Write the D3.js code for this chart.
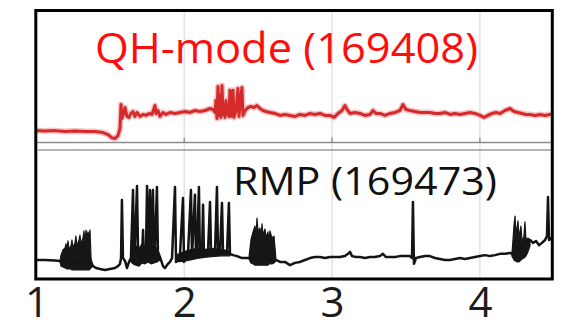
<!DOCTYPE html>
<html>
<head>
<meta charset="utf-8">
<script src="https://cdn.jsdelivr.net/npm/d3@7/dist/d3.min.js"></script>
<style>
  html, body { margin: 0; padding: 0; background: #fff; }
  svg { display: block; }
</style>
</head>
<body>
<svg id="chart" width="561" height="330"></svg>
<script>
// Time axis ticks (s)
const timeTicks = [1, 2, 3, 4];

// Panel labels
const qhLabel = "QH-mode (169408)";
const rmpLabel = "RMP (169473)";

// QH-mode discharge: edge D-alpha trace, [time s, signal a.u.]
const qhTrace = [
  [0.99,0.36],[1.058,0.35],[1.125,0.36],[1.193,0.33],[1.26,0.35],[1.328,0.33],[1.396,0.33],
  [1.45,0.30],[1.484,0.24],[1.511,0.14],[1.531,0.12],[1.551,0.21],[1.565,0.42],[1.572,1.15],
  [1.578,0.73],[1.592,0.91],[1.599,1.06],[1.612,0.79],[1.626,0.76],[1.639,0.88],[1.653,0.94],
  [1.666,0.79],[1.68,0.91],[1.70,0.79],[1.721,0.85],[1.741,0.82],[1.761,0.88],[1.781,0.85],
  [1.795,1.03],[1.802,1.12],[1.809,0.88],[1.822,0.97],[1.836,0.79],[1.856,0.91],[1.876,0.85],
  [1.903,0.91],[1.937,0.88],[1.971,0.91],[2.005,0.94],[2.039,0.91],[2.072,0.97],[2.106,0.94],
  [2.14,0.97],[2.174,1.03],[2.194,1.00],[2.208,0.91],[2.214,1.27],[2.221,0.73],[2.228,1.70],
  [2.235,0.82],[2.242,1.42],[2.248,0.76],[2.255,1.73],[2.262,0.85],[2.269,1.03],[2.275,0.76],
  [2.282,1.27],[2.289,0.91],[2.302,0.79],[2.309,1.58],[2.316,0.79],[2.33,1.58],[2.336,0.76],
  [2.35,0.97],[2.363,1.64],[2.37,0.79],[2.377,1.12],[2.39,1.67],[2.397,0.82],[2.411,0.97],
  [2.431,1.06],[2.451,1.09],[2.472,1.06],[2.492,1.12],[2.512,1.03],[2.532,0.97],[2.553,0.94],
  [2.58,0.91],[2.614,0.88],[2.648,0.82],[2.681,0.85],[2.715,0.82],[2.749,0.79],[2.783,0.85],
  [2.817,0.82],[2.85,0.88],[2.884,0.85],[2.918,0.88],[2.952,0.82],[2.986,0.82],[3.013,0.76],
  [3.04,0.88],[3.067,0.97],[3.087,1.12],[3.101,1.00],[3.121,0.88],[3.155,0.91],[3.189,0.88],
  [3.223,0.82],[3.256,0.85],[3.277,0.97],[3.297,0.88],[3.324,0.88],[3.358,0.82],[3.392,0.88],
  [3.426,0.91],[3.459,0.97],[3.48,1.15],[3.50,1.00],[3.527,0.97],[3.561,0.94],[3.595,0.91],
  [3.629,0.91],[3.662,0.91],[3.696,0.88],[3.73,0.88],[3.764,0.91],[3.798,0.85],[3.832,0.88],
  [3.865,0.85],[3.899,0.88],[3.933,0.91],[3.967,0.88],[4.001,0.82],[4.028,0.76],[4.055,0.82],
  [4.082,0.88],[4.109,0.91],[4.136,0.88],[4.17,0.97],[4.204,1.03],[4.231,0.94],[4.258,0.91],
  [4.285,0.88],[4.312,0.85],[4.339,0.85],[4.373,0.82],[4.407,0.85],[4.441,0.82],[4.474,0.85],
  [4.488,0.85]
];

// RMP discharge: edge D-alpha trace, [time s, signal a.u.]
const rmpTrace = [
  [0.99,0.59],[1.058,0.59],[1.125,0.57],[1.159,0.56],[1.26,0.50],[1.369,0.53],[1.382,0.40],
  [1.403,0.34],[1.43,0.31],[1.463,0.28],[1.497,0.31],[1.531,0.34],[1.551,0.40],[1.565,0.47],
  [1.572,0.65],[1.578,2.45],[1.585,0.65],[1.599,0.56],[1.612,0.34],[1.626,0.53],[1.639,0.65],
  [1.653,2.76],[1.66,0.74],[1.666,0.96],[1.68,2.88],[1.687,0.90],[1.70,0.53],[1.714,0.71],
  [1.721,1.52],[1.727,0.53],[1.741,0.90],[1.748,2.88],[1.754,0.74],[1.768,2.76],[1.775,0.90],
  [1.788,2.76],[1.795,0.74],[1.802,1.05],[1.815,2.85],[1.822,0.65],[1.836,0.68],[1.856,0.40],
  [1.869,0.34],[1.89,0.47],[1.903,0.53],[1.917,0.65],[1.937,2.85],[1.944,0.53],[1.957,0.65],
  [1.971,0.74],[1.991,2.51],[1.998,0.53],[2.012,0.71],[2.025,0.78],[2.045,2.76],[2.052,0.71],
  [2.072,2.61],[2.079,0.65],[2.086,0.84],[2.099,2.85],[2.106,0.71],[2.12,0.78],[2.127,2.30],
  [2.133,0.74],[2.147,0.84],[2.16,0.78],[2.174,2.39],[2.181,0.84],[2.194,0.90],[2.208,0.84],
  [2.221,2.85],[2.228,0.84],[2.242,0.90],[2.255,2.36],[2.262,0.84],[2.275,0.87],[2.289,0.81],
  [2.302,2.36],[2.309,0.78],[2.33,0.74],[2.357,0.71],[2.39,0.65],[2.424,0.65],[2.445,0.65],
  [2.62,0.59],[2.648,0.53],[2.681,0.53],[2.715,0.43],[2.749,0.50],[2.783,0.53],[2.817,0.59],
  [2.85,0.65],[2.884,0.68],[2.918,0.68],[2.952,0.65],[2.986,0.68],[3.02,0.68],[3.053,0.68],
  [3.087,0.71],[3.108,0.78],[3.121,0.84],[3.135,0.71],[3.162,0.68],[3.189,0.68],[3.223,0.65],
  [3.256,0.68],[3.29,0.68],[3.324,0.71],[3.344,0.78],[3.365,0.68],[3.392,0.68],[3.426,0.68],
  [3.459,0.71],[3.493,0.71],[3.527,0.71],[3.541,0.65],[3.547,2.39],[3.554,0.47],[3.568,0.65],
  [3.595,0.68],[3.629,0.71],[3.662,0.71],[3.696,0.65],[3.73,0.62],[3.764,0.59],[3.798,0.59],
  [3.832,0.62],[3.865,0.65],[3.899,0.62],[3.933,0.65],[3.967,0.68],[4.001,0.71],[4.035,0.74],
  [4.068,0.71],[4.102,0.74],[4.136,0.78],[4.17,0.78],[4.204,0.81],[4.217,0.78],[4.339,1.21],
  [4.359,1.12],[4.38,1.18],[4.40,1.05],[4.42,1.12],[4.441,1.21],[4.454,1.33],[4.461,2.54],
  [4.468,1.21],[4.474,1.27],[4.488,1.21]
];

// RMP discharge: fast ELM bursts, envelope [time s, min, max]
const rmpBurstA = [
  [1.159,0.53,0.56],[1.166,0.40,0.74],[1.179,0.37,0.90],[1.193,0.34,0.96],[1.20,0.34,1.09],
  [1.206,0.31,0.90],[1.213,0.31,1.18],[1.22,0.31,0.93],[1.233,0.31,1.02],[1.24,0.28,1.21],
  [1.247,0.28,0.96],[1.26,0.28,1.12],[1.267,0.28,1.33],[1.274,0.28,1.02],[1.288,0.28,1.21],
  [1.294,0.28,1.36],[1.301,0.28,1.09],[1.315,0.28,1.27],[1.321,0.28,1.49],[1.328,0.28,1.15],
  [1.335,0.28,1.52],[1.342,0.28,1.27],[1.348,0.28,1.46],[1.355,0.28,1.33],[1.362,0.31,1.52],
  [1.369,0.34,0.65],[1.376,0.40,0.47]
];
const rmpBurstB = [
  [1.639,0.53,0.65],[1.653,0.47,1.05],[1.673,0.43,1.02],[1.694,0.40,0.96],[1.714,0.50,1.08],
  [1.734,0.47,1.02],[1.754,0.53,1.12],[1.775,0.47,1.05],[1.795,0.50,1.02],[1.815,0.53,0.96],
  [1.836,0.59,0.74]
];
const rmpBurstC = [
  [1.944,0.53,0.74],[2.0,0.55,0.85],[2.05,0.60,0.92],[2.1,0.65,0.95],[2.15,0.68,0.92],
  [2.2,0.70,0.95],[2.25,0.72,0.92],[2.31,0.72,0.85]
];
const rmpBurstD = [
  [2.438,0.62,0.68],[2.451,0.50,1.21],[2.465,0.47,1.46],[2.478,0.43,1.64],[2.485,0.43,1.33],
  [2.492,0.43,1.89],[2.499,0.43,1.46],[2.512,0.43,1.58],[2.519,0.43,1.27],[2.526,0.43,1.71],
  [2.532,0.43,1.36],[2.546,0.43,1.55],[2.553,0.43,1.27],[2.566,0.43,1.46],[2.573,0.47,1.21],
  [2.58,0.47,1.49],[2.593,0.47,1.27],[2.607,0.50,1.33],[2.614,0.53,0.96],[2.62,0.56,0.62]
];
const rmpBurstE = [
  [4.217,0.71,0.78],[4.224,0.65,1.21],[4.231,0.59,1.67],[4.238,0.56,1.95],[4.244,0.56,1.36],
  [4.251,0.53,1.58],[4.258,0.53,1.80],[4.265,0.53,1.21],[4.271,0.56,1.46],[4.278,0.59,1.64],
  [4.285,0.62,1.15],[4.298,0.65,1.33],[4.305,0.68,1.77],[4.312,0.71,1.21],[4.325,0.84,1.27],
  [4.339,1.02,1.21]
];

const svg = d3.select("#chart");
const fontFamily = "'Open Sans', 'DejaVu Sans', sans-serif";

// Frame and panel geometry
const frame = { left: 35.8, top: 10.5, right: 552.3, bottom: 279 };
const topPanel = { top: 10.5, bottom: 142.5 };
const botPanel = { top: 150, bottom: 279 };

const x = d3.scaleLinear().domain([1, 4.488]).range([36.5, 552]);
const yTop = d3.scaleLinear().domain([0, 4]).range([topPanel.bottom, topPanel.top]);
const yBot = d3.scaleLinear().domain([0, 4]).range([botPanel.bottom, botPanel.top]);

svg.append("rect").attr("width", 561).attr("height", 330).attr("fill", "#fff");

const defs = svg.append("defs");
defs.append("clipPath").attr("id", "clipTop").append("rect")
  .attr("x", frame.left).attr("y", topPanel.top)
  .attr("width", frame.right - frame.left).attr("height", topPanel.bottom - topPanel.top);
defs.append("clipPath").attr("id", "clipBot").append("rect")
  .attr("x", frame.left).attr("y", botPanel.top)
  .attr("width", frame.right - frame.left).attr("height", botPanel.bottom - botPanel.top);

// Vertical grid lines at the time ticks
const grid = svg.append("g");
grid.selectAll("line.grid").data(timeTicks.filter(t => t > 1)).join("line")
  .attr("class", "grid")
  .attr("x1", d => x(d)).attr("x2", d => x(d))
  .attr("y1", frame.top).attr("y2", frame.bottom)
  .attr("stroke", "#e2e2e2").attr("stroke-width", 1.5);
// small inner ticks on the lower edge of the top panel
grid.selectAll("line.tick").data(timeTicks.filter(t => t > 1)).join("line")
  .attr("class", "tick")
  .attr("x1", d => x(d)).attr("x2", d => x(d))
  .attr("y1", topPanel.bottom - 5).attr("y2", topPanel.bottom)
  .attr("stroke", "#9a9a9a").attr("stroke-width", 1.5);

// Panel separators
svg.append("line")
  .attr("x1", frame.left).attr("x2", frame.right)
  .attr("y1", topPanel.bottom).attr("y2", topPanel.bottom)
  .attr("stroke", "#8c8c8c").attr("stroke-width", 1.5);
svg.append("line")
  .attr("x1", frame.left + 2).attr("x2", frame.right)
  .attr("y1", botPanel.top).attr("y2", botPanel.top)
  .attr("stroke", "#9a9a9a").attr("stroke-width", 1.5);

// Panel labels
svg.append("text")
  .attr("x", 95).attr("y", 63)
  .attr("font-family", fontFamily).attr("font-size", 42)
  .attr("fill", "#ff0d0d")
  .attr("textLength", 383).attr("lengthAdjust", "spacingAndGlyphs")
  .text(qhLabel);
svg.append("text")
  .attr("x", 233).attr("y", 195)
  .attr("font-family", fontFamily).attr("font-size", 39)
  .attr("fill", "#111")
  .attr("textLength", 264).attr("lengthAdjust", "spacingAndGlyphs")
  .text(rmpLabel);

// QH-mode trace
const lineTop = d3.line().x(d => x(d[0])).y(d => yTop(d[1]));
const gTop = svg.append("g").attr("clip-path", "url(#clipTop)");
gTop.append("path").datum(qhTrace).attr("d", lineTop)
  .attr("fill", "none").attr("stroke", "#e87a7a").attr("stroke-opacity", 0.45)
  .attr("stroke-width", 6).attr("stroke-linejoin", "round");
gTop.append("path").datum(qhTrace).attr("d", lineTop)
  .attr("fill", "none").attr("stroke", "#d42a2c")
  .attr("stroke-width", 3).attr("stroke-linejoin", "round");

// RMP trace with burst envelopes
const gBot = svg.append("g").attr("clip-path", "url(#clipBot)");
const burstArea = d3.area().x(d => x(d[0])).y0(d => yBot(d[1])).y1(d => yBot(d[2]));
[rmpBurstA, rmpBurstB, rmpBurstC, rmpBurstD, rmpBurstE].forEach(b => {
  gBot.append("path").datum(b).attr("d", burstArea)
    .attr("fill", "#161616").attr("stroke", "#161616").attr("stroke-width", 1.2)
    .attr("stroke-linejoin", "round");
});
const lineBot = d3.line().x(d => x(d[0])).y(d => yBot(d[1]));
gBot.append("path").datum(rmpTrace).attr("d", lineBot)
  .attr("fill", "none").attr("stroke", "#141414")
  .attr("stroke-width", 2.5).attr("stroke-linejoin", "round");

// Outer frame
svg.append("rect")
  .attr("x", frame.left).attr("y", frame.top)
  .attr("width", frame.right - frame.left).attr("height", frame.bottom - frame.top)
  .attr("fill", "none").attr("stroke", "#000").attr("stroke-width", 3);

// Time axis labels
const axis = d3.axisBottom(x).tickValues(timeTicks).tickSize(0).tickPadding(0)
  .tickFormat(d3.format("d"));
const gAxis = svg.append("g").attr("transform", `translate(0, ${frame.bottom})`).call(axis);
gAxis.select(".domain").remove();
gAxis.selectAll("text")
  .attr("y", 38).attr("dy", null)
  .attr("font-family", fontFamily).attr("font-size", 42)
  .attr("fill", "#1c1c1c");
</script>
</body>
</html>
